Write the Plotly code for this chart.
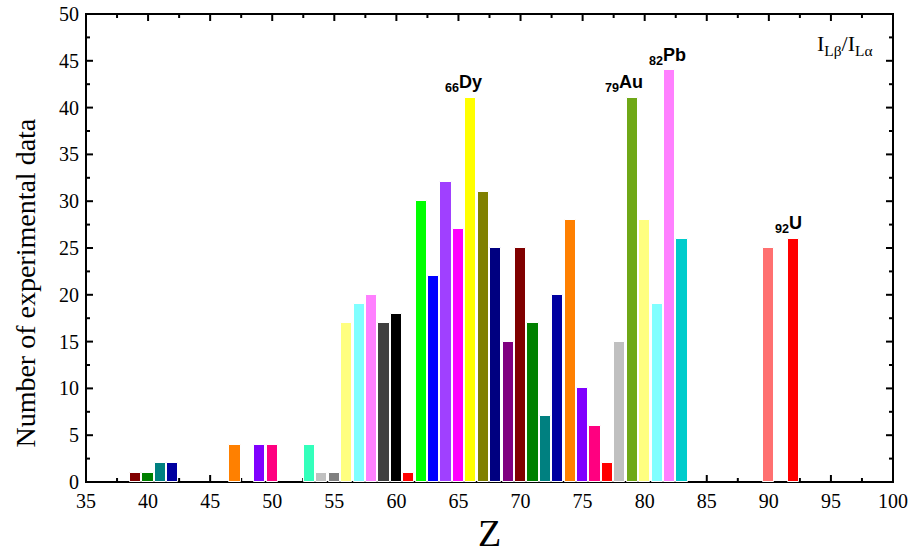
import numpy as np
import plotly.graph_objects as go

# Atomic numbers with available experimental I_Lβ/I_Lα data
z_values = [39, 40, 41, 42, 47, 49, 50, 53, 54, 55, 56, 57, 58, 59, 60, 61,
            62, 63, 64, 65, 66, 67, 68, 69, 70, 71, 72, 73, 74, 75, 76, 77,
            78, 79, 80, 81, 82, 83, 90, 92]
# Number of experimental data points per element
counts = [1, 1, 2, 2, 4, 4, 4, 4, 1, 1, 17, 19, 20, 17, 18, 1,
          30, 22, 32, 27, 41, 31, 25, 15, 25, 17, 7, 20, 28, 10, 6, 2,
          15, 41, 28, 19, 44, 26, 25, 26]
bar_colors = ["#800000", "#008000", "#008080", "#0000A0", "#FF8000", "#8000FF",
              "#FF0080", "#33FFBB", "#C0C0C0", "#808080", "#FFFF80", "#80FFFF",
              "#FF80FF", "#404040", "#000000", "#FF0000", "#00FF00", "#0000FF",
              "#A040FF", "#FF00FF", "#FFFF00", "#808000", "#000080", "#800080",
              "#800000", "#008000", "#008080", "#0000A0", "#FF8000", "#8000FF",
              "#FF0080", "#FF0000", "#C0C0C0", "#6FA817", "#FFFF80", "#80FFFF",
              "#FF80FF", "#00CCCC", "#FF7070", "#FF0000"]

# Labelled elements: (text, x position, y position)
element_labels = [
    ("<b><sub>66</sub>Dy</b>", 65.4, 41.6),
    ("<b><sub>79</sub>Au</b>", 78.3, 41.6),
    ("<b><sub>82</sub>Pb</b>", 81.8, 44.4),
    ("<b><sub>92</sub>U</b>", 91.6, 26.5),
]

x_range = [35, 100]
y_range = [0, 50]
tick_step = 5

W, H = 911, 558
M = dict(l=86, r=18, t=14, b=76)
plot_w = W - M["l"] - M["r"]
plot_h = H - M["t"] - M["b"]

serif = "Liberation Serif, Times New Roman, serif"

fig = go.Figure()
fig.add_trace(go.Bar(
    x=z_values, y=counts, width=0.9,
    marker=dict(color=bar_colors, line=dict(color="white", width=1)),
    showlegend=False,
))

axis_common = dict(
    showline=False, ticks="", showgrid=False, zeroline=False, automargin=False,
    tickfont=dict(family=serif, size=20, color="black"),
)
fig.update_xaxes(
    range=x_range, dtick=tick_step, tick0=x_range[0], ticklabelstandoff=5,
    title=dict(text="Z", font=dict(family=serif, size=38, color="black"), standoff=8),
    **axis_common,
)
fig.update_yaxes(range=y_range, dtick=tick_step, tick0=y_range[0],
                 ticklabelstandoff=6, **axis_common)


# Frame and inward ticks, built from filled rectangles
def px_rect(xref, xanchor, x0, x1, yref, yanchor, y0, y1, layer="above"):
    fig.add_shape(type="rect", xref=xref, yref=yref,
                  xsizemode="pixel", xanchor=xanchor, x0=x0, x1=x1,
                  ysizemode="pixel", yanchor=yanchor, y0=y0, y1=y1,
                  fillcolor="black", line=dict(width=0), layer=layer)


# frame sides (the bottom one sits beneath the bars)
px_rect("paper", 0, -1, 1, "paper", 0, -1, plot_h + 1)
px_rect("paper", 1, -1, 1, "paper", 0, -1, plot_h + 1)
px_rect("paper", 0, -1, plot_w + 1, "paper", 0, -1, 1, layer="below")
px_rect("paper", 0, -1, plot_w + 1, "paper", 1, -1, 1)

x_major = np.arange(x_range[0], x_range[1] + 0.01, tick_step)
y_major = np.arange(y_range[0], y_range[1] + 0.01, tick_step)
x_minor = x_major[:-1] + tick_step / 2
y_minor = y_major[:-1] + tick_step / 2

for ticks, length in ((x_major, 7), (x_minor, 4)):
    for v in ticks:
        px_rect("x", float(v), -1, 1, "paper", 0, 0, length, layer="below")
        px_rect("x", float(v), -1, 1, "paper", 1, -length, 0)
for ticks, length in ((y_major, 7), (y_minor, 4)):
    for v in ticks:
        px_rect("paper", 0, 0, length, "y", float(v), -1, 1)
        px_rect("paper", 1, -length, 0, "y", float(v), -1, 1)

# y-axis title, placed as a rotated annotation
fig.add_annotation(
    xref="paper", yref="paper", x=-0.075, y=0.425,
    text="Number of experimental data", textangle=-90, showarrow=False,
    xanchor="center", yanchor="middle",
    font=dict(family=serif, size=28, color="black"),
)

for text, xpos, ypos in element_labels:
    fig.add_annotation(
        x=xpos, y=ypos, text=text, showarrow=False,
        xanchor="center", yanchor="bottom", yshift=-4,
        font=dict(family="Liberation Sans, Arial, sans-serif", size=18, color="black"),
    )

fig.add_annotation(
    x=96.1, y=46.7, text="I<sub>Lβ</sub>/I<sub>Lα</sub>", showarrow=False,
    xanchor="center", yanchor="middle",
    font=dict(family=serif, size=22, color="black"),
)

fig.update_layout(
    width=W, height=H, margin=M,
    paper_bgcolor="white", plot_bgcolor="white",
    bargap=0,
)

fig.write_html("out.html")
